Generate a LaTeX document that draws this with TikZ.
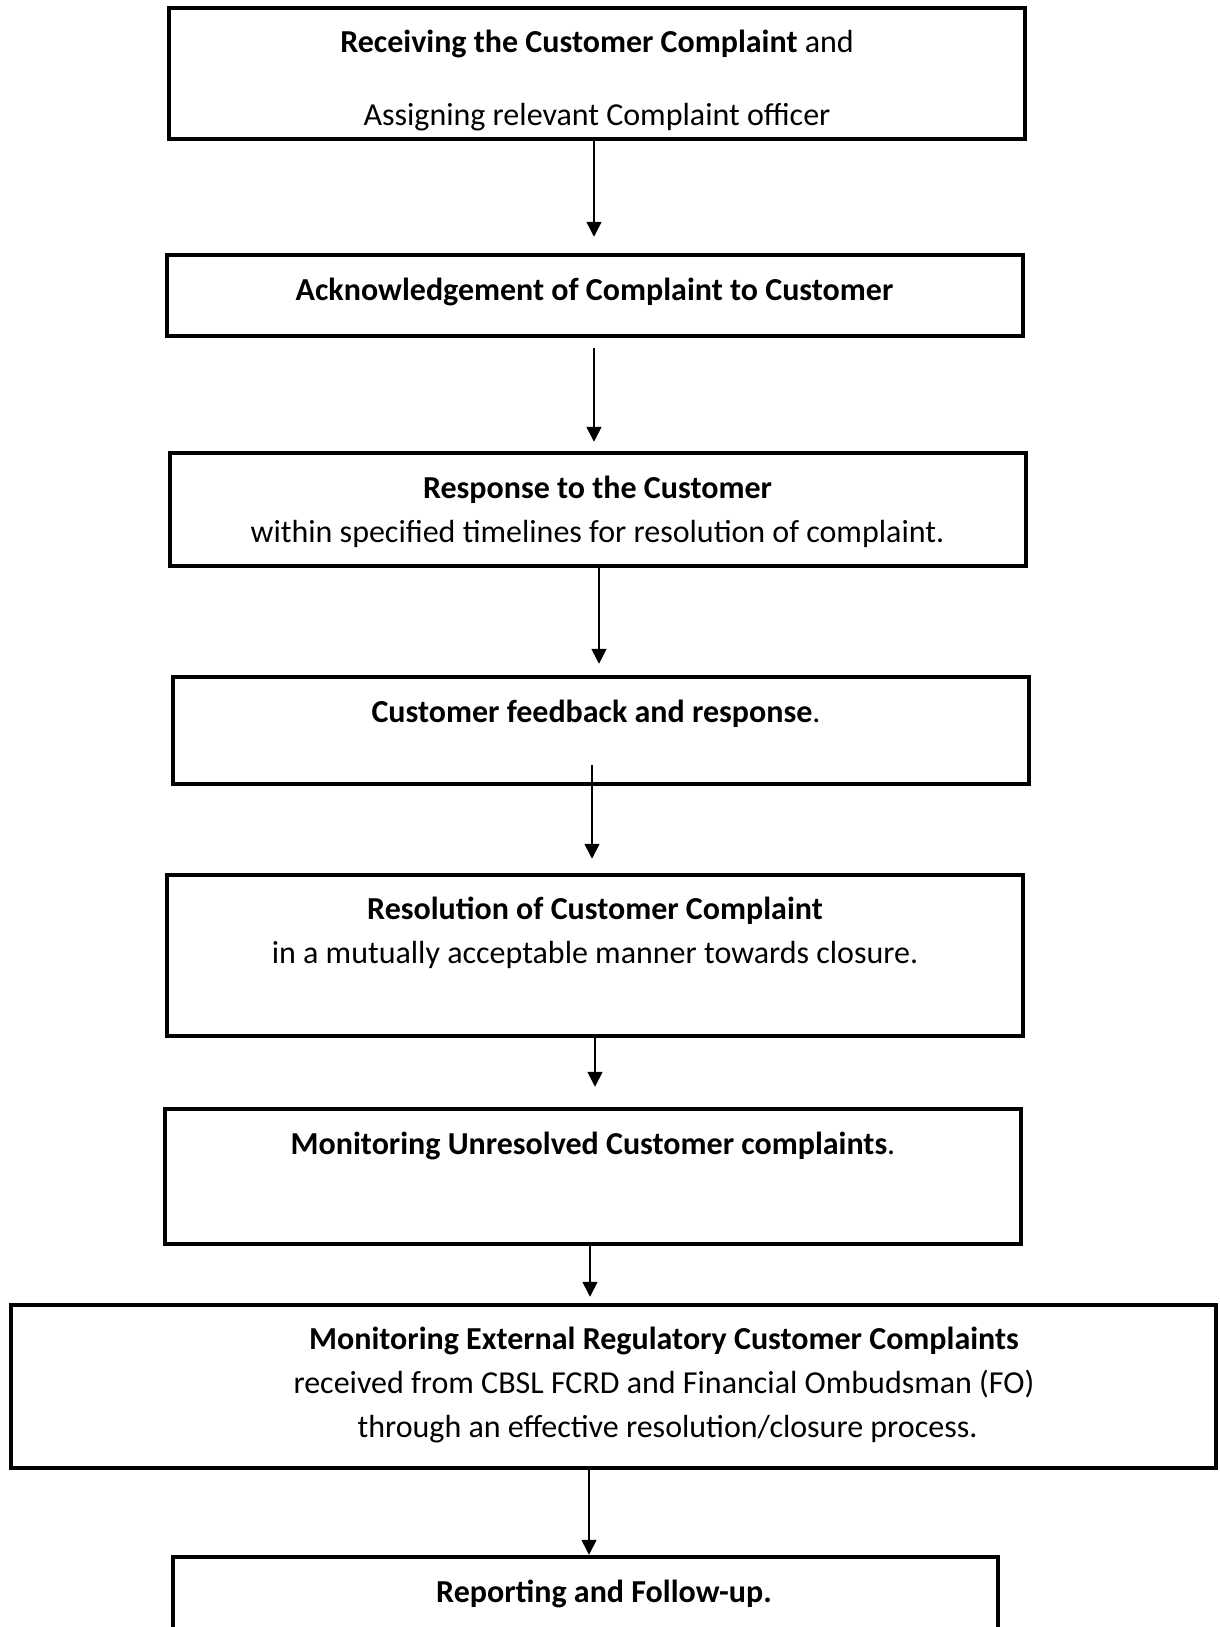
\documentclass[tikz,border=0pt]{standalone}
\usepackage{fontspec}
\setmainfont{Carlito}
\usetikzlibrary{arrows.meta}

\begin{document}
\begin{tikzpicture}[x=1pt, y=-1pt,
    stage/.style={draw, rectangle, line width=4.5pt, minimum width=856pt, inner sep=0pt},
    txt/.style={align=center, anchor=base, inner sep=0pt, font=\fontsize{32}{44}\selectfont},
    arrow/.style={line width=1.6pt, -{Triangle[length=15pt, width=15pt]}}
]
\useasboundingbox (0,0) rectangle (1220,1627);
\clip (0,0) rectangle (1220,1627);

% the stage boxes
\node[stage, minimum height=131pt] (recv) at (597,73.5) {};
\node[stage, minimum height=81pt] (ack) at (595,295.5) {};
\node[stage, minimum height=113pt] (resp) at (598,509.5) {};
\node[stage, minimum height=107pt] (feed) at (601,730.5) {};
\node[stage, minimum height=161pt] (resol) at (595,955.5) {};
\node[stage, minimum height=135pt] (unres) at (593,1176.5) {};
\node[stage, minimum width=1205pt, minimum height=163pt] (extern) at (613.5,1386.5) {};
\node[stage, minimum width=825pt, minimum height=120pt] (report) at (585.5,1617) {};

% texts (base = last line)
\node[txt] (recv-t) at (597,125) {\textbf{Receiving the Customer Complaint} and\\[29pt] Assigning relevant Complaint officer};
\node[txt] (ack-t) at (594.5,300) {\textbf{Acknowledgement of Complaint to Customer}};
\node[txt] (resp-t) at (597.5,542) {\textbf{Response to the Customer}\\ within specified timelines for resolution of complaint.};
\node[txt] (feed-t) at (596,722) {\textbf{Customer feedback and response}.};
\node[txt] (resol-t) at (595,963) {\textbf{Resolution of Customer Complaint}\\ in a mutually acceptable manner towards closure.};
\node[txt] (unres-t) at (593,1154) {\textbf{Monitoring Unresolved Customer complaints}.};
\node[txt] (extern-t) at (664,1437) {\textbf{Monitoring External Regulatory Customer Complaints}\\ received from CBSL FCRD and Financial Ombudsman (FO)\\ \hspace*{7pt}through an effective resolution/closure process.};
\node[txt] (report-t) at (604,1602) {\textbf{Reporting and Follow-up.}};

% connectors
\draw[arrow, shorten >=16pt] ([xshift=-3pt]recv.south) -- ([xshift=-3pt]recv.south |- ack.north);
\draw[arrow, shorten >=9pt] ([xshift=-1pt, yshift=-10pt]ack.south) -- ([xshift=-1pt]ack.south |- resp.north);
\draw[arrow, shorten >=11pt] ([xshift=1pt]resp.south) -- ([xshift=1pt]resp.south |- feed.north);
\draw[arrow, shorten >=14pt] ([xshift=-9pt, yshift=21pt]feed.south) -- ([xshift=-9pt]feed.south |- resol.north);
\draw[arrow, shorten >=20pt] (resol.south) -- (resol.south |- unres.north);
\draw[arrow, shorten >=6pt] ([xshift=-3pt]unres.south) -- ([xshift=-3pt]unres.south |- extern.north);
\draw[arrow] ([xshift=-24.5pt]extern.south) -- ([xshift=-24.5pt]extern.south |- report.north);

\end{tikzpicture}
\end{document}
